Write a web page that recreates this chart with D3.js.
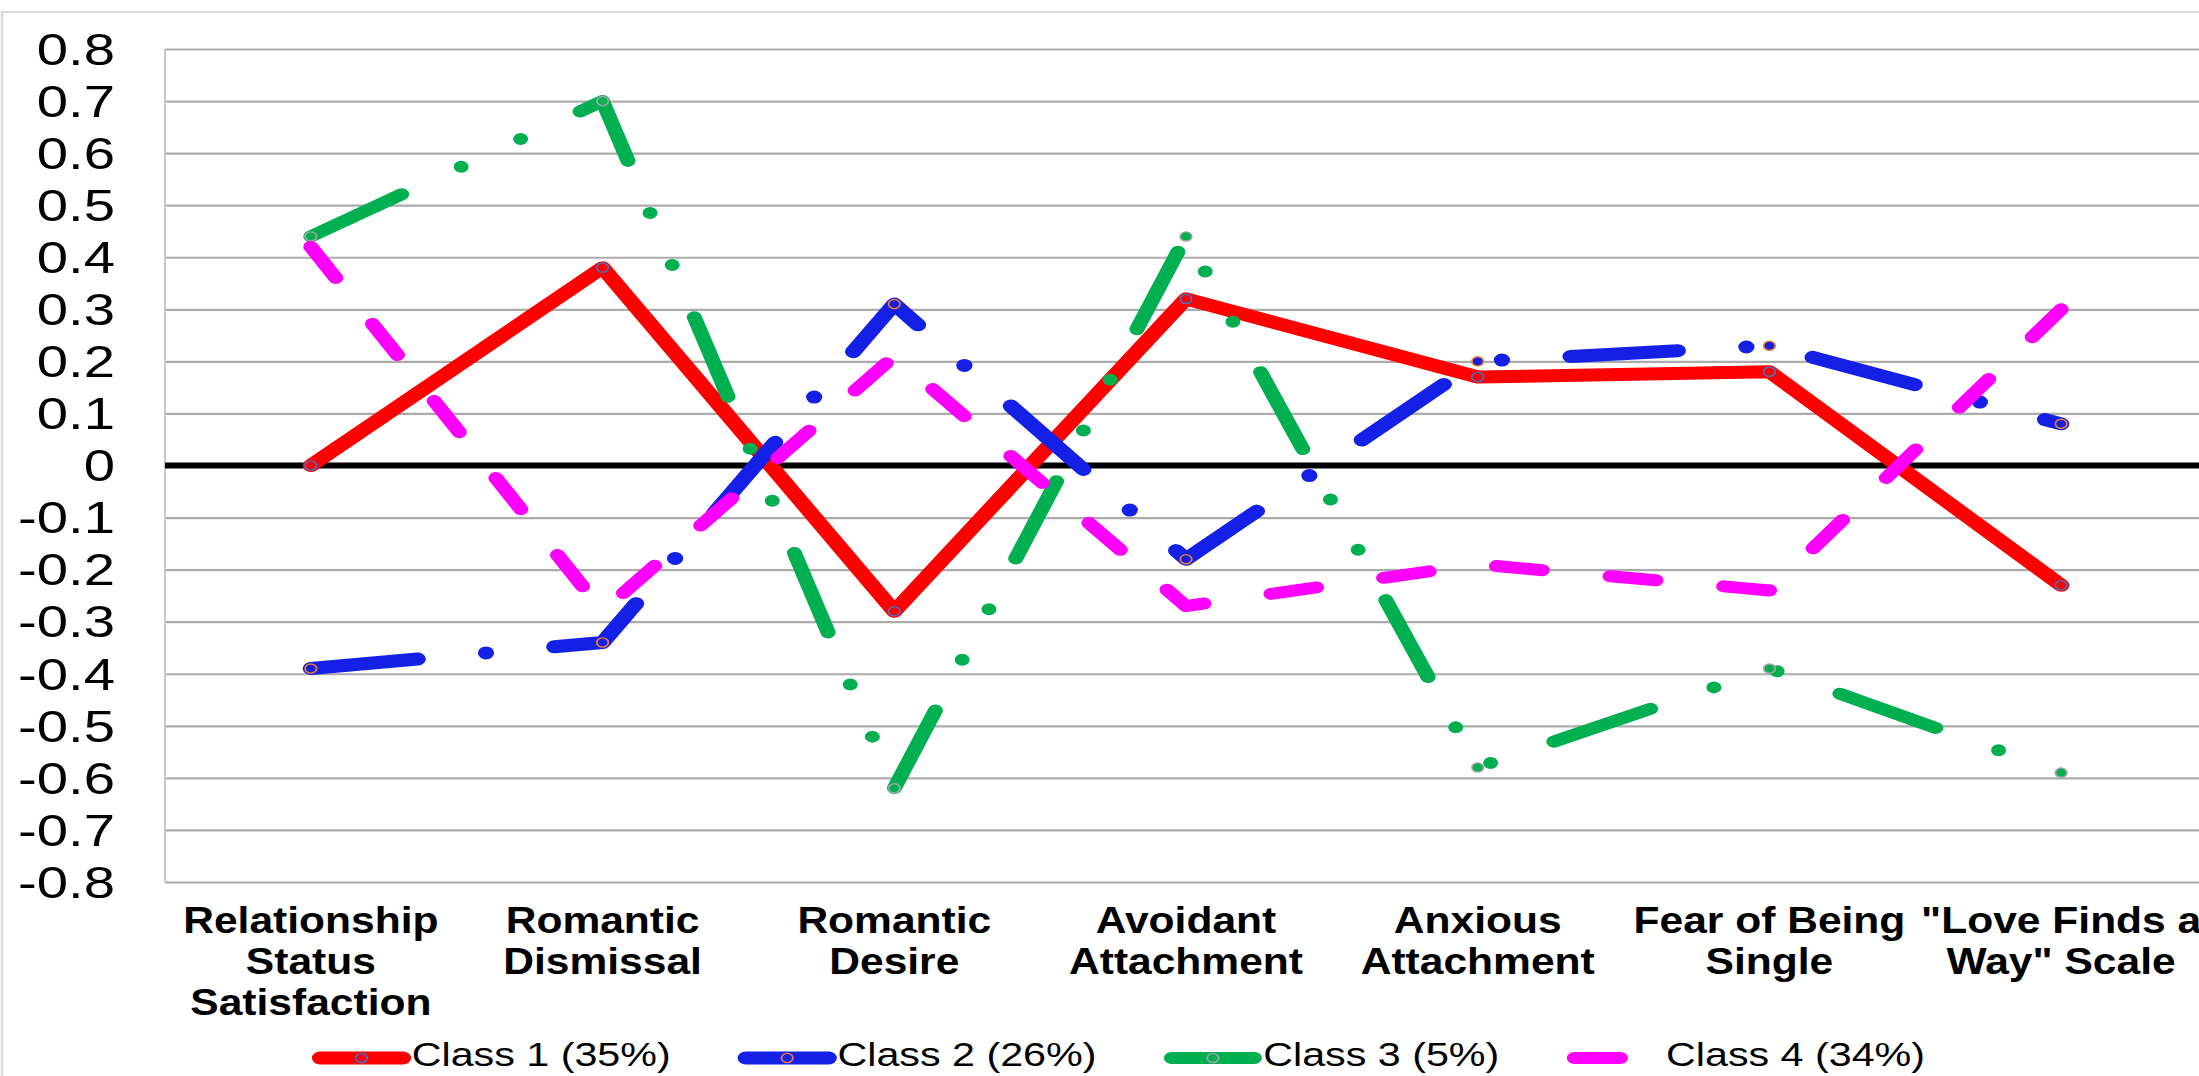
<!DOCTYPE html>
<html><head><meta charset="utf-8">
<script src="https://cdn.jsdelivr.net/npm/d3@7"></script>
<style>
html,body{margin:0;padding:0;background:#fff;overflow:hidden}
svg{display:block}
text{font-family:"Liberation Sans",Arial,Helvetica,sans-serif}
</style></head><body>
<svg id="chart" width="2199" height="1076"></svg>
<script>
// ---- data ----
const categories = ["Relationship Status Satisfaction", "Romantic Dismissal", "Romantic Desire",
  "Avoidant Attachment", "Anxious Attachment", "Fear of Being Single", "\"Love Finds a Way\" Scale"];
const categoryLines = [["Relationship", "Status", "Satisfaction"], ["Romantic", "Dismissal"], ["Romantic", "Desire"],
  ["Avoidant", "Attachment"], ["Anxious", "Attachment"], ["Fear of Being", "Single"], ["\"Love Finds a", "Way\" Scale"]];
const class1 = [0.00, 0.38, -0.28, 0.32, 0.17, 0.18, -0.23];
const class2 = [-0.39, -0.34, 0.31, -0.18, 0.20, 0.23, 0.08];
const class3 = [0.44, 0.70, -0.62, 0.44, -0.58, -0.39, -0.59];
const class4 = [0.42, -0.28, 0.21, -0.27, -0.19, -0.24, 0.30];
const seriesNames = ["Class 1 (35%)", "Class 2 (26%)", "Class 3 (5%)", "Class 4 (34%)"];
const tickValues = [0.8, 0.7, 0.6, 0.5, 0.4, 0.3, 0.2, 0.1, 0, -0.1, -0.2, -0.3, -0.4, -0.5, -0.6, -0.7, -0.8];

// ---- styles ----
const seriesStyle = [
  {color: "#FF0000", width: 13, dash: null, marker: "#4472C4"},
  {color: "#1420E6", width: 13, dash: "86 55 0 55", marker: "#ED7D31"},
  {color: "#00B050", width: 12, dash: "84 55 0 55 0 55", marker: "#A5A5A5"},
  {color: "#FF00FF", width: 12, dash: "37 54.5", marker: null}
];
const seriesData = [class1, class2, class3, class4];

const W = 2199, H = 1076, SX = 1.25;
const svg = d3.select("#chart");
svg.append("rect").attr("width", W).attr("height", H).attr("fill", "#fff");
const g = svg.append("g").attr("transform", `scale(${SX},1)`);

// chart border
g.append("rect").attr("x", 2 / SX).attr("y", 12).attr("width", (W + 60) / SX).attr("height", H)
  .attr("fill", "none").attr("stroke", "#d9d9d9").attr("stroke-width", 2);

const plotL = 165 / SX, plotR = 2207 / SX, plotT = 49, plotB = 882;
const x = d3.scalePoint().domain(categories).range([plotL, plotR]).padding(0.5);
const y = d3.scaleLinear().domain([-0.8, 0.8]).range([plotB, plotT]);

// gridlines + y labels
const yAxis = d3.axisLeft(y).tickValues(tickValues).tickSize(-(plotR - plotL)).tickPadding(40)
  .tickFormat(d => d === 0 ? "0" : d.toFixed(1));
const ax = g.append("g").attr("transform", `translate(${plotL},0)`).call(yAxis);
ax.select(".domain").remove();
ax.selectAll(".tick line").attr("stroke", "#ababab").attr("stroke-width", 2.2);
ax.selectAll(".tick text").attr("fill", "#000").attr("font-size", 45).attr("dy", "0.34em")
  .attr("font-family", "\"Liberation Sans\",Arial,sans-serif");

// left axis line
g.append("line").attr("x1", plotL).attr("x2", plotL).attr("y1", plotT).attr("y2", plotB)
  .attr("stroke", "#c8c8c8").attr("stroke-width", 2 / SX);
// zero line
g.append("line").attr("x1", plotL).attr("x2", plotR).attr("y1", y(0)).attr("y2", y(0))
  .attr("stroke", "#000").attr("stroke-width", 6);

// series
const line = d3.line().x((d, i) => x(categories[i])).y(d => y(d));
seriesData.forEach((vals, si) => {
  const st = seriesStyle[si];
  const sg = g.append("g");
  sg.append("path").datum(vals).attr("d", line).attr("fill", "none")
    .attr("stroke", st.color).attr("stroke-width", st.width)
    .attr("stroke-linecap", "round").attr("stroke-linejoin", "round")
    .attr("stroke-dasharray", st.dash);
  if (st.marker) {
    sg.selectAll("circle").data(vals).join("circle")
      .attr("cx", (d, i) => x(categories[i])).attr("cy", d => y(d)).attr("r", 4.6)
      .attr("fill", st.color).attr("stroke", st.marker).attr("stroke-width", 1.4);
  }
});

// category labels
categories.forEach((c, i) => {
  const lines = categoryLines[i];
  lines.forEach((t, li) => {
    g.append("text").attr("transform", `translate(${x(c)},${933 + li * 41}) scale(0.92,1)`)
      .attr("text-anchor", "middle").attr("font-weight", "bold").attr("font-size", 37)
      .attr("fill", "#000").text(t);
  });
});

// legend
const legY = 1058, legBase = 1066, symLen = 93 / SX;
let lx = 315 / SX;
seriesNames.forEach((name, si) => {
  const st = seriesStyle[si];
  const lg = g.append("g");
  lg.append("line").attr("x1", lx + 4).attr("x2", lx + symLen - 4).attr("y1", legY).attr("y2", legY)
    .attr("stroke", st.color).attr("stroke-width", st.width).attr("stroke-linecap", "round")
    .attr("stroke-dasharray", si === 3 ? st.dash : null);
  if (st.marker) {
    lg.append("circle").attr("cx", lx + symLen / 2).attr("cy", legY).attr("r", 4.6)
      .attr("fill", st.color).attr("stroke", st.marker).attr("stroke-width", 1.4);
  }
  const tx = lg.append("text").attr("x", lx + symLen + 3).attr("y", legBase)
    .attr("font-size", 33).attr("fill", "#000").text(name);
  const tw = tx.node().getComputedTextLength();
  lx = lx + symLen + 3 + tw + 56;
});
</script>
</body></html>
